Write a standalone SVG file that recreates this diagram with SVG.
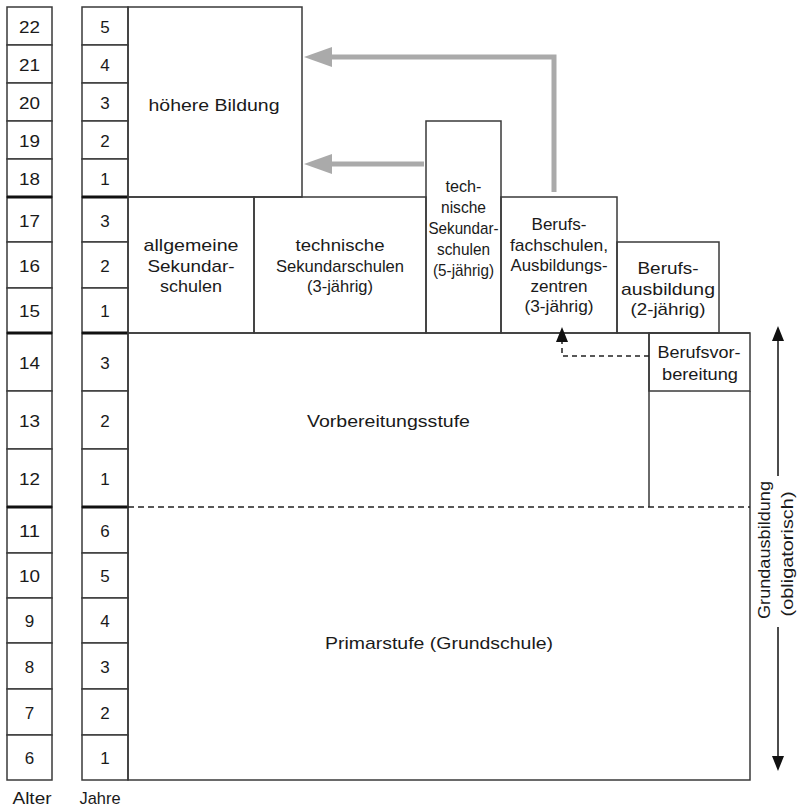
<svg xmlns="http://www.w3.org/2000/svg" width="802" height="809" viewBox="0 0 802 809">
<style>
  .box{fill:none;stroke:#3a3a3a;stroke-width:1.5}
  .cell{fill:#fff;stroke:#3a3a3a;stroke-width:1.5}
  .thick{stroke:#111;stroke-width:3}
  .t{font-family:"Liberation Sans",Arial,sans-serif;font-size:17px;fill:#1a1a1a;text-anchor:middle}
  .gray{fill:none;stroke:#aaaaaa;stroke-width:5}
  .dash{fill:none;stroke:#222;stroke-width:1.5;stroke-dasharray:5,4}
  .mdash{fill:none;stroke:#222;stroke-width:1.3;stroke-dasharray:6,4}
  .blk{fill:none;stroke:#111;stroke-width:1.5}
</style>
<defs>
  <marker id="grayHead" markerUnits="userSpaceOnUse" markerWidth="28" markerHeight="20" refX="6" refY="10" orient="auto" viewBox="0 0 28 20">
    <path d="M0,0 L28,10 L0,20 Z" fill="#aaaaaa"/>
  </marker>
  <marker id="blkHead" markerUnits="userSpaceOnUse" markerWidth="15" markerHeight="12" refX="0" refY="6" orient="auto" viewBox="0 0 15 12">
    <path d="M0,0 L15,6 L0,12 Z" fill="#111"/>
  </marker>
</defs>
<rect x="0" y="0" width="802" height="809" fill="#fff"/>

<g id="alter">
  <rect class="cell" x="7" y="7" width="45" height="38"/>
  <rect class="cell" x="7" y="45" width="45" height="38"/>
  <rect class="cell" x="7" y="83" width="45" height="38"/>
  <rect class="cell" x="7" y="121" width="45" height="38"/>
  <rect class="cell" x="7" y="159" width="45" height="38"/>
  <rect class="cell" x="7" y="197" width="45" height="45"/>
  <rect class="cell" x="7" y="242" width="45" height="46"/>
  <rect class="cell" x="7" y="288" width="45" height="45"/>
  <rect class="cell" x="7" y="333" width="45" height="58"/>
  <rect class="cell" x="7" y="391" width="45" height="58"/>
  <rect class="cell" x="7" y="449" width="45" height="58"/>
  <rect class="cell" x="7" y="507" width="45" height="46"/>
  <rect class="cell" x="7" y="553" width="45" height="45"/>
  <rect class="cell" x="7" y="598" width="45" height="45"/>
  <rect class="cell" x="7" y="643" width="45" height="46"/>
  <rect class="cell" x="7" y="689" width="45" height="46"/>
  <rect class="cell" x="7" y="735" width="45" height="45"/>
  <line class="thick" x1="7" y1="197" x2="52" y2="197"/>
  <line class="thick" x1="7" y1="333" x2="52" y2="333"/>
  <line class="thick" x1="7" y1="507" x2="52" y2="507"/>
  <text class="t" x="29.5" y="32.5" textLength="21" lengthAdjust="spacingAndGlyphs">22</text>
  <text class="t" x="29.5" y="70.5" textLength="21" lengthAdjust="spacingAndGlyphs">21</text>
  <text class="t" x="29.5" y="108.5" textLength="21" lengthAdjust="spacingAndGlyphs">20</text>
  <text class="t" x="29.5" y="146.5" textLength="21" lengthAdjust="spacingAndGlyphs">19</text>
  <text class="t" x="29.5" y="184.5" textLength="21" lengthAdjust="spacingAndGlyphs">18</text>
  <text class="t" x="29.5" y="226.5" textLength="21" lengthAdjust="spacingAndGlyphs">17</text>
  <text class="t" x="29.5" y="271.5" textLength="21" lengthAdjust="spacingAndGlyphs">16</text>
  <text class="t" x="29.5" y="317" textLength="21" lengthAdjust="spacingAndGlyphs">15</text>
  <text class="t" x="29.5" y="368.5" textLength="21" lengthAdjust="spacingAndGlyphs">14</text>
  <text class="t" x="29.5" y="426.5" textLength="21" lengthAdjust="spacingAndGlyphs">13</text>
  <text class="t" x="29.5" y="484.5" textLength="21" lengthAdjust="spacingAndGlyphs">12</text>
  <text class="t" x="29.5" y="536.5" textLength="21" lengthAdjust="spacingAndGlyphs">11</text>
  <text class="t" x="29.5" y="582" textLength="21" lengthAdjust="spacingAndGlyphs">10</text>
  <text class="t" x="29.5" y="627">9</text>
  <text class="t" x="29.5" y="672.5">8</text>
  <text class="t" x="29.5" y="718.5">7</text>
  <text class="t" x="29.5" y="764">6</text>
  <text class="t" x="32" y="804" textLength="39" lengthAdjust="spacingAndGlyphs">Alter</text>
</g>

<g id="jahre">
  <rect class="cell" x="82" y="7" width="46" height="38"/>
  <rect class="cell" x="82" y="45" width="46" height="38"/>
  <rect class="cell" x="82" y="83" width="46" height="38"/>
  <rect class="cell" x="82" y="121" width="46" height="38"/>
  <rect class="cell" x="82" y="159" width="46" height="38"/>
  <rect class="cell" x="82" y="197" width="46" height="45"/>
  <rect class="cell" x="82" y="242" width="46" height="46"/>
  <rect class="cell" x="82" y="288" width="46" height="45"/>
  <rect class="cell" x="82" y="333" width="46" height="58"/>
  <rect class="cell" x="82" y="391" width="46" height="58"/>
  <rect class="cell" x="82" y="449" width="46" height="58"/>
  <rect class="cell" x="82" y="507" width="46" height="46"/>
  <rect class="cell" x="82" y="553" width="46" height="45"/>
  <rect class="cell" x="82" y="598" width="46" height="45"/>
  <rect class="cell" x="82" y="643" width="46" height="46"/>
  <rect class="cell" x="82" y="689" width="46" height="46"/>
  <rect class="cell" x="82" y="735" width="46" height="45"/>
  <line class="thick" x1="82" y1="197" x2="128" y2="197"/>
  <line class="thick" x1="82" y1="333" x2="128" y2="333"/>
  <line class="thick" x1="82" y1="507" x2="128" y2="507"/>
  <text class="t" x="105" y="32.5">5</text>
  <text class="t" x="105" y="70.5">4</text>
  <text class="t" x="105" y="108.5">3</text>
  <text class="t" x="105" y="146.5">2</text>
  <text class="t" x="105" y="184.5">1</text>
  <text class="t" x="105" y="226.5">3</text>
  <text class="t" x="105" y="271.5">2</text>
  <text class="t" x="105" y="317">1</text>
  <text class="t" x="105" y="368.5">3</text>
  <text class="t" x="105" y="426.5">2</text>
  <text class="t" x="105" y="484.5">1</text>
  <text class="t" x="105" y="536.5">6</text>
  <text class="t" x="105" y="582">5</text>
  <text class="t" x="105" y="627">4</text>
  <text class="t" x="105" y="672.5">3</text>
  <text class="t" x="105" y="718.5">2</text>
  <text class="t" x="105" y="764">1</text>
  <text class="t" x="100" y="804" textLength="41" lengthAdjust="spacingAndGlyphs">Jahre</text>
</g>

<g id="hoehere-bildung">
  <rect class="box" x="128" y="7" width="174" height="190"/>
  <text class="t" x="214" y="111" textLength="131" lengthAdjust="spacingAndGlyphs">höhere Bildung</text>
</g>

<g id="allgemeine-sekundarschulen">
  <rect class="box" x="128" y="197" width="126" height="136"/>
  <text class="t" x="191" y="251" textLength="95" lengthAdjust="spacingAndGlyphs">allgemeine</text>
  <text class="t" x="191" y="272" textLength="87" lengthAdjust="spacingAndGlyphs">Sekundar-</text>
  <text class="t" x="191" y="292" textLength="62" lengthAdjust="spacingAndGlyphs">schulen</text>
</g>

<g id="technische-3">
  <rect class="box" x="254" y="197" width="172" height="136"/>
  <text class="t" x="340" y="251" textLength="89" lengthAdjust="spacingAndGlyphs">technische</text>
  <text class="t" x="340" y="272" textLength="128" lengthAdjust="spacingAndGlyphs">Sekundarschulen</text>
  <text class="t" x="340" y="292" textLength="66" lengthAdjust="spacingAndGlyphs">(3-jährig)</text>
</g>

<g id="technische-5">
  <rect class="box" x="426" y="121" width="75" height="212"/>
  <text class="t" x="463.5" y="192" textLength="36" lengthAdjust="spacingAndGlyphs">tech-</text>
  <text class="t" x="463.5" y="213" textLength="45" lengthAdjust="spacingAndGlyphs">nische</text>
  <text class="t" x="463.5" y="234" textLength="70" lengthAdjust="spacingAndGlyphs">Sekundar-</text>
  <text class="t" x="463.5" y="255" textLength="53" lengthAdjust="spacingAndGlyphs">schulen</text>
  <text class="t" x="463.5" y="276" textLength="61" lengthAdjust="spacingAndGlyphs">(5-jährig)</text>
</g>

<g id="berufsfachschulen">
  <rect class="box" x="501" y="197" width="116" height="136"/>
  <text class="t" x="559" y="230" textLength="55" lengthAdjust="spacingAndGlyphs">Berufs-</text>
  <text class="t" x="559" y="251" textLength="98" lengthAdjust="spacingAndGlyphs">fachschulen,</text>
  <text class="t" x="559" y="271" textLength="97" lengthAdjust="spacingAndGlyphs">Ausbildungs-</text>
  <text class="t" x="559" y="292" textLength="57" lengthAdjust="spacingAndGlyphs">zentren</text>
  <text class="t" x="559" y="312" textLength="69" lengthAdjust="spacingAndGlyphs">(3-jährig)</text>
</g>

<g id="berufsausbildung">
  <rect class="box" x="617" y="242" width="102" height="91"/>
  <text class="t" x="668" y="274" textLength="61" lengthAdjust="spacingAndGlyphs">Berufs-</text>
  <text class="t" x="668" y="295" textLength="94" lengthAdjust="spacingAndGlyphs">ausbildung</text>
  <text class="t" x="668" y="315" textLength="75" lengthAdjust="spacingAndGlyphs">(2-jährig)</text>
</g>

<g id="vorbereitungsstufe">
  <path class="box" d="M128,507 V333 H750 M649,333 V507"/>
  <text class="t" x="388.5" y="427" textLength="163" lengthAdjust="spacingAndGlyphs">Vorbereitungsstufe</text>
</g>

<g id="berufsvorbereitung">
  <rect class="box" x="649" y="333" width="101" height="58"/>
  <path class="box" d="M750,391 V507"/>
  <text class="t" x="699" y="358" textLength="83" lengthAdjust="spacingAndGlyphs">Berufsvor-</text>
  <text class="t" x="700" y="380" textLength="76" lengthAdjust="spacingAndGlyphs">bereitung</text>
</g>

<g id="primarstufe">
  <path class="box" d="M128,507 V780 H750 V507"/>
  <path class="mdash" d="M128,507 H750"/>
  <text class="t" x="439" y="649" textLength="228" lengthAdjust="spacingAndGlyphs">Primarstufe (Grundschule)</text>
</g>

<g id="grundausbildung">
  <text class="t" transform="translate(770,550) rotate(-90)" x="0" y="0" font-size="18" textLength="138" lengthAdjust="spacingAndGlyphs">Grundausbildung</text>
  <text class="t" transform="translate(793,554) rotate(-90)" x="0" y="0" font-size="18" textLength="125" lengthAdjust="spacingAndGlyphs">(obligatorisch)</text>
</g>

<g id="connectors">
  <path class="gray" d="M554,192 V57 H326" marker-end="url(#grayHead)"/>
  <path class="gray" d="M424,164 H326" marker-end="url(#grayHead)"/>
  <path class="dash" d="M649,356 H562 V342" marker-end="url(#blkHead)"/>
  <path class="blk" d="M778,476 V341" marker-end="url(#blkHead)"/>
  <path class="blk" d="M778,627 V756" marker-end="url(#blkHead)"/>
</g>
</svg>
